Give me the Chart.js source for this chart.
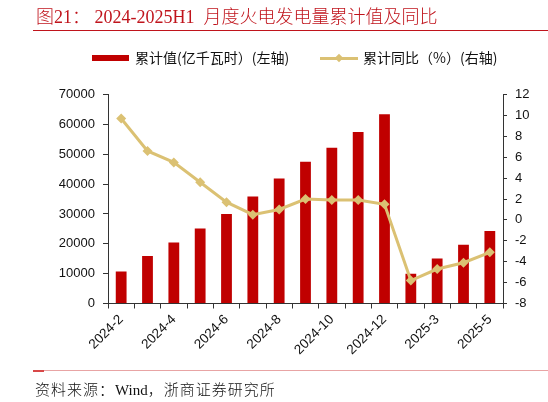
<!DOCTYPE html>
<html>
<head>
<meta charset="utf-8">
<script src="https://cdn.jsdelivr.net/npm/chart.js@4.4.1/dist/chart.umd.min.js"></script>
<style>
  html, body { margin: 0; padding: 0; background: #fff; }
  #wrap { position: relative; width: 548px; height: 402px; overflow: hidden; background: #fff; }
  #c { position: absolute; left: 0; top: 0; }
  .title { position: absolute; top: 4px; left: 36px; color: #C0141C; font-size: 18px; white-space: pre;
           font-family: "Liberation Serif", "Noto Sans CJK SC", serif; line-height: 22px; }
  .title .cjk { font-family: "Noto Sans CJK SC", sans-serif; letter-spacing: 0px; font-weight: 300; }
  .rule-top { position: absolute; left: 33px; top: 29.5px; width: 515px; height: 1px; background: #C0141C; }
  .rule-bot { position: absolute; left: 33px; top: 370px; width: 515px; height: 1px; background: #E8A4A4; }
  .rule-bot-mark { position: absolute; left: 33px; top: 370px; width: 11px; height: 1.5px; background: #D84848; }
  .legend { position: absolute; top: 48px; font-family: "Noto Sans CJK SC", sans-serif; font-size: 14px; color: #111; line-height: 18px; white-space: pre; }
  .lg-rect { position: absolute; left: 92px; top: 54.5px; width: 37px; height: 6px; background: #C00000; }
  .lg-line { position: absolute; left: 320px; top: 57px; width: 38px; height: 3px; background: #DBC173; }
  .lg-diam { position: absolute; left: 336px; top: 55px; width: 6px; height: 6px; background: #DBC173; transform: rotate(45deg); }
  .source { position: absolute; left: 35px; top: 379px; font-size: 15px; color: #111; white-space: pre;
            font-family: "Liberation Serif", "Noto Sans CJK SC", serif; line-height: 20px; }
  .source .cjk { font-family: "Noto Sans CJK SC", sans-serif; letter-spacing: 1px; font-weight: 300; }
</style>
</head>
<body>
<div id="wrap">
  <canvas id="c" width="548" height="402"></canvas>
  <div class="title"><span class="cjk">图</span>21<span class="cjk">：</span> 2024-2025H1  <span class="cjk">月度火电发电量累计值及同比</span></div>
  <div class="rule-top"></div>
  <div class="lg-rect"></div>
  <div class="legend" style="left:135px;">累计值(亿千瓦时）(左轴)</div>
  <div class="lg-line"></div>
  <div class="lg-diam"></div>
  <div class="legend" style="left:363px;">累计同比（%）(右轴)</div>
  <div class="rule-bot"></div>
  <div class="rule-bot-mark"></div>
  <div class="source"><span class="cjk">资料来源：</span>Wind<span class="cjk">，浙商证券研究所</span></div>
</div>
<script>
const categories = ['2024-2','2024-3','2024-4','2024-5','2024-6','2024-7','2024-8','2024-9','2024-10','2024-11','2024-12','2025-2','2025-3','2025-4','2025-5'];
const shownLabels = ['2024-2','2024-4','2024-6','2024-8','2024-10','2024-12','2025-3','2025-5'];
const cumulativeValue = [10700, 15900, 20400, 25100, 30000, 35800, 41900, 47500, 52200, 57400, 63400, 10000, 15100, 19700, 24300];
const cumulativeYoY = [9.7, 6.6, 5.5, 3.6, 1.7, 0.5, 1.0, 2.0, 1.9, 1.9, 1.5, -5.8, -4.7, -4.1, -3.1];
const leftTicks = { min: 0, max: 70000, step: 10000 };
const rightTicks = { min: -8, max: 12, step: 2 };

Chart.defaults.font.family = '"Liberation Sans", Arial, sans-serif';
Chart.defaults.font.size = 13;
Chart.defaults.color = '#111';

new Chart(document.getElementById('c'), {
  type: 'bar',
  data: {
    labels: categories,
    datasets: [
      {
        type: 'line',
        label: '累计同比（%）(右轴)',
        data: cumulativeYoY,
        yAxisID: 'y1',
        borderColor: '#DBC173',
        backgroundColor: '#DBC173',
        borderWidth: 3,
        pointStyle: 'rectRot',
        pointRadius: 5,
        pointBorderWidth: 0,
        tension: 0,
        order: 0
      },
      {
        type: 'bar',
        label: '累计值(亿千瓦时）(左轴)',
        data: cumulativeValue,
        yAxisID: 'y',
        backgroundColor: '#C00000',
        categoryPercentage: 1,
        barPercentage: 0.41,
        order: 1
      }
    ]
  },
  options: {
    responsive: false,
    animation: false,
    devicePixelRatio: 1,
    layout: { padding: { top: 94.5, left: 0, right: 0, bottom: 0 } },
    plugins: { legend: { display: false }, title: { display: false }, tooltip: { enabled: false } },
    scales: {
      x: {
        offset: true,
        grid: { offset: true, drawOnChartArea: false, drawTicks: true, tickLength: 5, color: '#333' },
        border: { display: true, color: '#333', width: 1 },
        ticks: {
          autoSkip: false, maxRotation: 45, minRotation: 45, padding: 3,
          font: { size: 13.5 }, color: '#111',
          callback: function(v, i) { const l = categories[i]; return shownLabels.includes(l) ? l : ''; }
        },
        afterFit: function(s) { s.height = 98.5; }
      },
      y: {
        position: 'left',
        min: leftTicks.min, max: leftTicks.max,
        grid: { drawOnChartArea: false, drawTicks: true, tickLength: 5, color: '#333' },
        border: { display: true, color: '#333', width: 1 },
        ticks: { stepSize: leftTicks.step, padding: 8, font: { size: 13 }, color: '#111',
                 callback: function(v) { return String(v); } },
        afterFit: function(s) { s.width = 108; }
      },
      y1: {
        position: 'right',
        min: rightTicks.min, max: rightTicks.max,
        grid: { drawOnChartArea: false, drawTicks: true, tickLength: 4, color: '#333' },
        border: { display: true, color: '#333', width: 1 },
        ticks: { stepSize: rightTicks.step, padding: 8, font: { size: 13 }, color: '#111',
                 callback: function(v) { return String(v); } },
        afterFit: function(s) { s.width = 45; }
      }
    }
  }
});
</script>
</body>
</html>
